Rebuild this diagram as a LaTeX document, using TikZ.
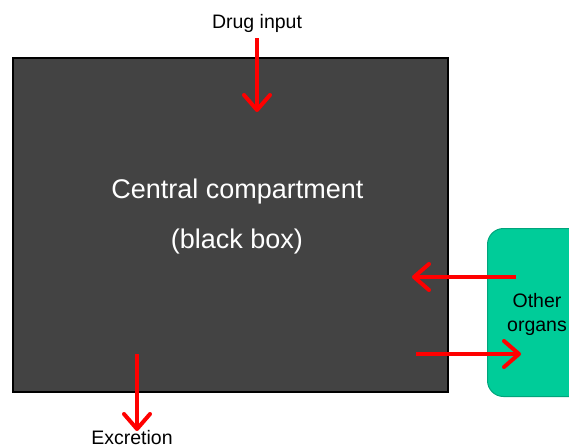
\documentclass[tikz,border=0pt]{standalone}
\usepackage{fontspec}
\setmainfont{Liberation Sans}
\usetikzlibrary{arrows.meta}
\definecolor{boxgray}{HTML}{434343}
\definecolor{organgreen}{HTML}{00CC99}
\definecolor{organedge}{HTML}{00A57C}
\begin{document}
\begin{tikzpicture}[x=1pt,y=-1pt,
  flow/.style={draw=red,line width=4pt,-{Straight Barb[length=15pt,width=26pt,line width=4pt,round]}},
  lbl/.style={font=\fontsize{19.5}{24}\selectfont,inner sep=0pt,align=center},
  big/.style={font=\fontsize{27}{32}\selectfont,text=white,inner sep=0pt}]
\clip (0,0) rectangle (569,447);
\fill[white] (0,0) rectangle (569,447);
% central compartment
\node[draw=black,line width=2pt,fill=boxgray,minimum width=435pt,minimum height=334pt,inner sep=0pt] (central) at (230.5,225) {};
\node[big] (ctitle) at (237.5,192) {Central compartment};
\node[big] (csub) at (237,242) {(black box)};
% other organs
\node[draw=organedge,line width=1pt,fill=organgreen,rounded corners=16pt,minimum width=120pt,minimum height=168pt,inner sep=0pt,anchor=north west] (organs) at (487,228) {};
\node[lbl] (otext) at (537,314) {Other\\organs};
% labels
\node[lbl] (drug) at (257,23) {Drug input};
\node[lbl,anchor=base] (excr) at (132,444) {Excretion};
% arrow endpoints
\coordinate (d1) at (257,38);
\coordinate (d2) at (257,112);
\coordinate (e1) at (137,354);
\coordinate (e2) at (137,431);
\coordinate (u1) at (516,277);
\coordinate (u2) at (412,277);
\coordinate (l1) at (416,354);
\coordinate (l2) at (521,354);
\draw[flow] (d1) -- (d2);
\draw[flow] (e1) -- (e2);
\draw[flow] (u1) -- (u2);
\draw[flow] (l1) -- (l2);
\end{tikzpicture}
\end{document}
